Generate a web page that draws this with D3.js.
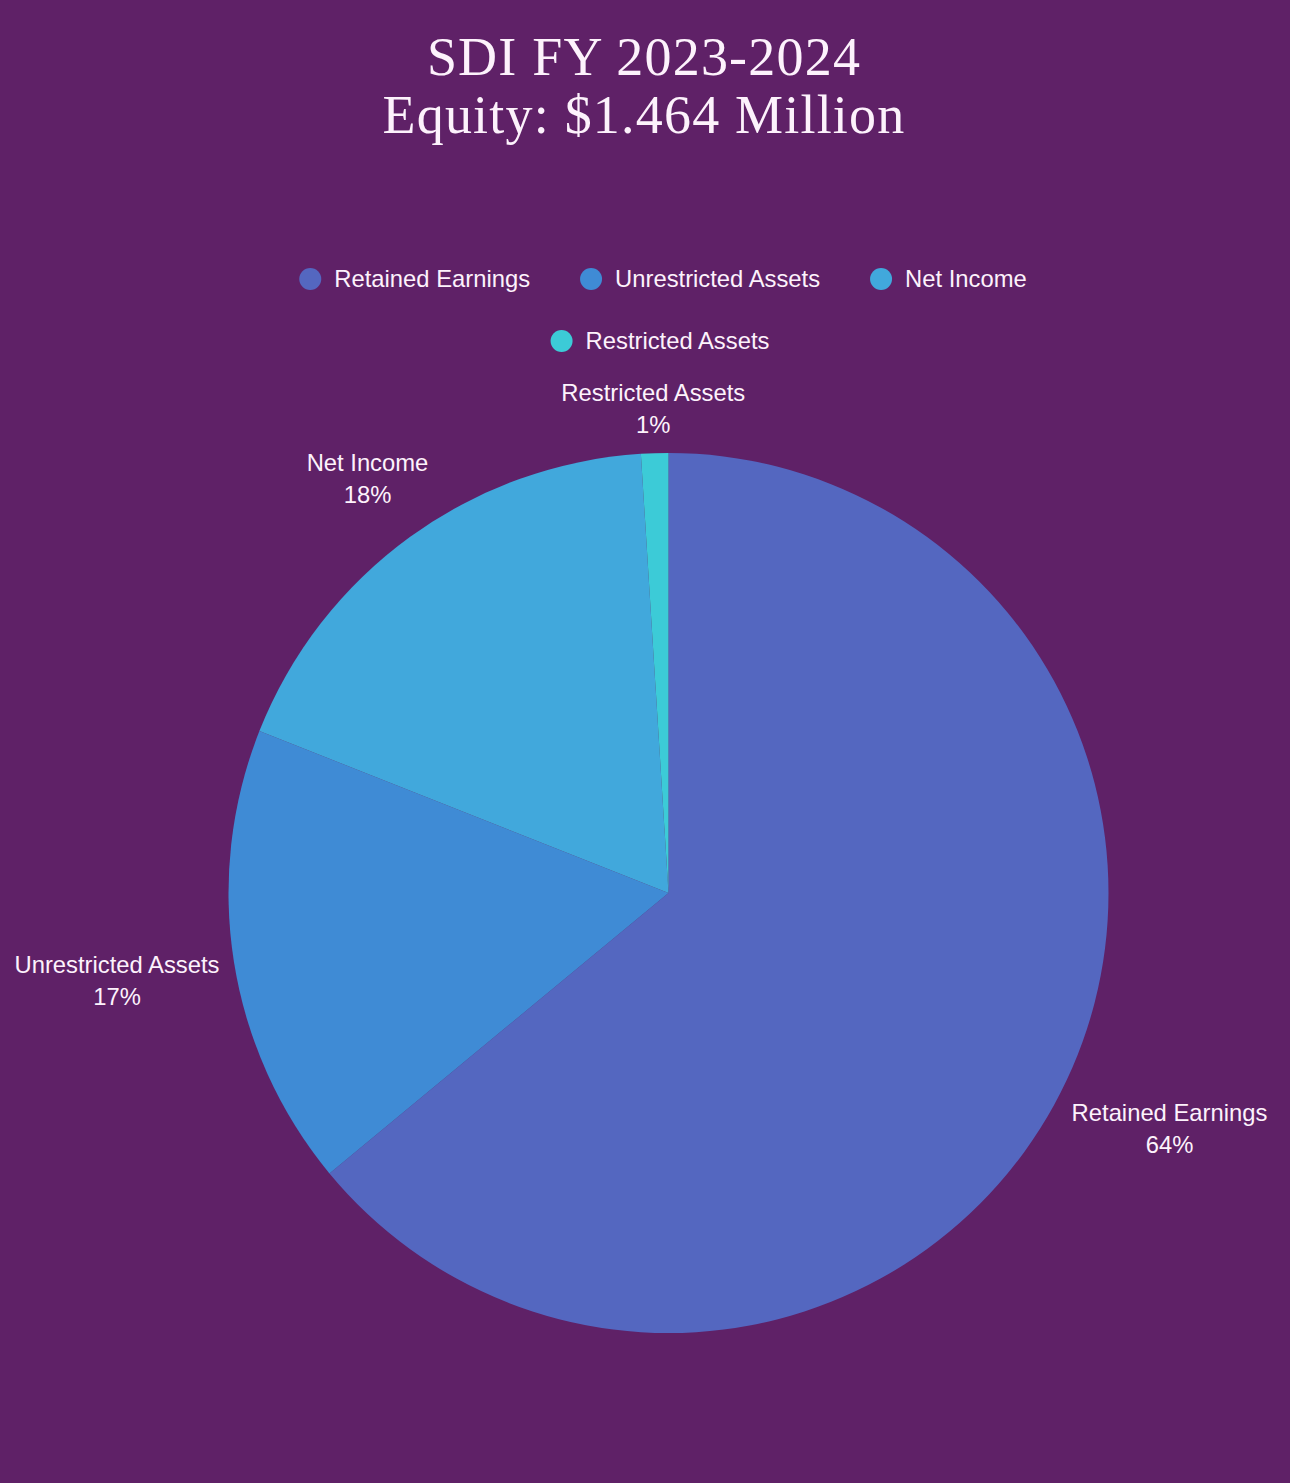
<!DOCTYPE html>
<html>
<head>
<meta charset="utf-8">
<script src="https://cdn.jsdelivr.net/npm/d3@7/dist/d3.min.js"></script>
<style>
  html, body { margin: 0; padding: 0; background: #5f2167; }
  svg { display: block; }
</style>
</head>
<body>
<svg id="chart" width="1290" height="1483"></svg>
<script>
// ---- data ----
const titleLines = ["SDI FY 2023-2024", "Equity: $1.464 Million"];
const categories = ["Retained Earnings", "Unrestricted Assets", "Net Income", "Restricted Assets"];
const shares = [64, 17, 18, 1];
const colors = ["#5467c0", "#3f8bd5", "#41a8dc", "#3ccbd7"];
const legendRows = [[0, 1, 2], [3]];

// ---- layout ----
const W = 1290, H = 1483;
const bg = "#5f2167";
const textColor = "#fdf2fc";
const cx = 668.5, cy = 893, R = 440;
const sansFont = "'Liberation Sans', Arial, sans-serif";
const labelSize = 23.8;

const svg = d3.select("#chart");
svg.append("rect").attr("width", W).attr("height", H).attr("fill", bg);

// title
const title = svg.append("text")
  .attr("text-anchor", "middle")
  .attr("fill", textColor)
  .attr("font-family", "'Liberation Serif', 'Times New Roman', serif")
  .attr("font-size", 54)
  .attr("letter-spacing", 1.2);
titleLines.forEach((t, i) => {
  title.append("tspan").attr("x", 644).attr("y", 75 + i * 58).text(t);
});

// legend
const legendY = [279, 341];
const legendCenter = [663, 660];
legendRows.forEach((row, ri) => {
  const g = svg.append("g");
  let x = 0;
  row.forEach((idx, k) => {
    const item = g.append("g").attr("transform", `translate(${x},0)`);
    item.append("circle").attr("cx", 11).attr("cy", 0).attr("r", 11).attr("fill", colors[idx]);
    const t = item.append("text")
      .attr("x", 35).attr("y", 0).attr("dy", "0.35em")
      .attr("fill", textColor)
      .attr("font-family", sansFont)
      .attr("font-size", labelSize)
      .text(categories[idx]);
    const w = t.node().getComputedTextLength();
    x += 35 + w + (k < row.length - 1 ? 50 : 0);
  });
  g.attr("transform", `translate(${legendCenter[ri] - x / 2},${legendY[ri]})`);
});

// pie
const pie = d3.pie().sort(null).value(d => d)(shares);
const arc = d3.arc().innerRadius(0).outerRadius(R);
const pg = svg.append("g").attr("transform", `translate(${cx},${cy})`);
pg.selectAll("path").data(pie).join("path")
  .attr("d", arc)
  .attr("fill", (d, i) => colors[i]);

// labels
const gap = 12.5, lineH = 32;
pie.forEach((d, i) => {
  const a = (d.startAngle + d.endAngle) / 2;
  const sx = Math.sin(a), sy = -Math.cos(a);
  const lg = pg.append("g");
  const t = lg.append("text")
    .attr("text-anchor", "middle")
    .attr("fill", textColor)
    .attr("font-family", sansFont)
    .attr("font-size", labelSize);
  t.append("tspan").attr("x", 0).attr("y", -lineH / 2).attr("dy", "0.35em").text(categories[i]);
  t.append("tspan").attr("x", 0).attr("y", lineH / 2).attr("dy", "0.35em").text(shares[i] + "%");
  const bb = t.node().getBBox();
  const hw = bb.width / 2, hh = bb.height / 2;
  const dist = R + gap + Math.abs(sx) * hw + Math.abs(sy) * hh;
  lg.attr("transform", `translate(${sx * dist},${sy * dist})`);
});
</script>
</body>
</html>
